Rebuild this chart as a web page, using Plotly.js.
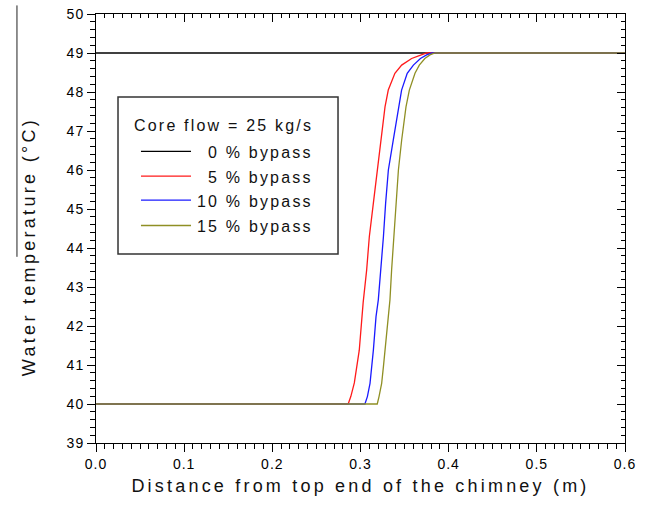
<!DOCTYPE html>
<html>
<head>
<meta charset="utf-8">
<script src="https://cdn.plot.ly/plotly-3.0.1.min.js"></script>
<style>
  html, body { margin: 0; padding: 0; background: #fff; }
  #chart { width: 650px; height: 513px; }
  .xtitle { letter-spacing: 3.2px; }
  .xtick text, .ytick text { letter-spacing: 1px; }
  .annotation-text { letter-spacing: 2.2px; }
</style>
</head>
<body>
<div id="chart"></div>
<script>
// Water temperature along the chimney for several bypass fractions
const legendTitle = "Core flow = 25 kg/s";
const seriesNames = ["0 % bypass", "5 % bypass", "10 % bypass", "15 % bypass"];
const seriesColors = ["#000000", "#ff1a1a", "#1a1aff", "#8f8f24"];

const x0 = [0, 0.6];
const t0 = [49, 49];

const x5 = [0, 0.286, 0.289, 0.293, 0.2986, 0.303, 0.307, 0.310, 0.3146, 0.319, 0.323, 0.3278, 0.3315, 0.339, 0.3467, 0.358, 0.369, 0.375, 0.6];
const t5 = [40, 40, 40.19, 40.54, 41.38, 42.6, 43.44, 44.29, 45.15, 46.0, 46.77, 47.62, 48.05, 48.48, 48.69, 48.86, 48.95, 49, 49];

const x10 = [0, 0.305, 0.3078, 0.3108, 0.3146, 0.3176, 0.3202, 0.3232, 0.326, 0.3285, 0.3316, 0.3372, 0.343, 0.3466, 0.353, 0.36, 0.368, 0.375, 0.381, 0.6];
const t10 = [40, 40, 40.19, 40.53, 41.38, 42.24, 42.67, 43.44, 44.29, 45.15, 46.0, 46.77, 47.62, 48.05, 48.48, 48.69, 48.86, 48.95, 49, 49];

const x15 = [0, 0.319, 0.321, 0.324, 0.326, 0.3278, 0.3307, 0.3334, 0.3353, 0.338, 0.3402, 0.343, 0.3467, 0.3516, 0.3554, 0.3618, 0.3667, 0.373, 0.3788, 0.3845, 0.6];
const t15 = [40, 40, 40.19, 40.53, 40.96, 41.38, 42.24, 42.67, 43.44, 44.29, 45.15, 46.0, 46.77, 47.62, 48.05, 48.48, 48.69, 48.86, 48.95, 49, 49];

// axis ranges and tick spacing (major / minor)
const xRange = [0, 0.6];
const yRange = [39, 50];
const xStep = [0.1, 0.01];
const yStep = [1, 0.2];

const xs = [x0, x5, x10, x15];
const ts = [t0, t5, t10, t15];

const curveTraces = xs.map((x, i) => ({
  x: x, y: ts[i], type: "scatter", mode: "lines", name: seriesNames[i],
  line: { color: seriesColors[i], width: 1.3 }, showlegend: false
}));
// empty trace that carries the top/right frame axes
const frameTrace = { x: [], y: [], xaxis: "x2", yaxis: "y2", type: "scatter", mode: "lines",
  showlegend: false, hoverinfo: "skip" };

const FAMILY = "Liberation Sans, Arial, sans-serif";
const tickFont = { family: FAMILY, size: 14, color: "#000" };
const titleFont = { family: FAMILY, size: 18, color: "#111" };
const legFont = { family: FAMILY, size: 16, color: "#111" };

function axisBase(range, step, dir, mirror) {
  const a = {
    range: range, dtick: step[0],
    ticks: dir, ticklen: 8, tickcolor: "#000",
    minor: { dtick: step[1], ticks: dir, ticklen: dir === "inside" ? 4 : 5, tickcolor: "#000" },
    showline: true, linecolor: "#000", showgrid: false, zeroline: false
  };
  if (mirror) a.mirror = "allticks";
  return a;
}

// legend box in paper coordinates
const L = { x0: 0.0416, x1: 0.4575, y0: 0.4406, y1: 0.8065 };
const sampleX = [0.085, 0.1796];
const rowY = [0.680, 0.622, 0.566, 0.507];
const textX = 0.414;

const shapes = [
  { type: "rect", xref: "paper", yref: "paper", x0: L.x0, x1: L.x1, y0: L.y0, y1: L.y1,
    line: { color: "#333", width: 1.5 }, fillcolor: "rgba(255,255,255,0)" },
  { type: "line", xref: "paper", yref: "paper", x0: -0.1494, x1: -0.1494, y0: 1.02, y1: 0.434,
    line: { color: "#222", width: 1 } }
];
const annotations = [
  { xref: "paper", yref: "paper", x: textX, y: 0.741, xanchor: "right", yanchor: "middle",
    text: legendTitle, showarrow: false, font: legFont },
  // y-axis title
  { xref: "paper", yref: "paper", x: -0.1267, y: 0.459, xanchor: "center", yanchor: "middle",
    textangle: -90, text: "Water temperature (°C)", showarrow: false, font: titleFont }
];
seriesNames.forEach((name, i) => {
  shapes.push({ type: "line", xref: "paper", yref: "paper", x0: sampleX[0], x1: sampleX[1],
    y0: rowY[i], y1: rowY[i], line: { color: seriesColors[i], width: 1.3 } });
  annotations.push({ xref: "paper", yref: "paper", x: textX, y: rowY[i] - 0.003, xanchor: "right",
    yanchor: "middle", text: name, showarrow: false, font: legFont });
});

function makeLayout(withFrameAxes) {
  const layout = {
    width: 650, height: 513,
    margin: { l: 96, r: 25, t: 14, b: 70 },
    paper_bgcolor: "#fff", plot_bgcolor: "#fff",
    showlegend: false,
    xaxis: Object.assign(axisBase(xRange, xStep, "outside", !withFrameAxes), {
      tickformat: ".1f", tickfont: tickFont,
      title: { text: "Distance from top end of the chimney (m)", font: titleFont, standoff: 8 }
    }),
    yaxis: Object.assign(axisBase(yRange, yStep, "outside", !withFrameAxes), { tickfont: tickFont }),
    shapes: shapes,
    annotations: annotations
  };
  if (withFrameAxes) {
    // top and right frame with ticks pointing into the plot
    layout.xaxis2 = Object.assign(axisBase(xRange, xStep, "inside", false), {
      overlaying: "x", side: "top", anchor: "y2", showticklabels: false });
    layout.yaxis2 = Object.assign(axisBase(yRange, yStep, "inside", false), {
      overlaying: "y", side: "right", anchor: "x2", showticklabels: false });
  }
  return layout;
}

const config = { staticPlot: true, displayModeBar: false };

function widenTitle(gd) {
  gd.querySelectorAll(".annotation-text").forEach(t => {
    if (t.textContent.indexOf("Water") === 0) t.style.letterSpacing = "3.3px";
  });
  return gd;
}

Plotly.newPlot("chart", curveTraces.concat([frameTrace]), makeLayout(true), config).then(gd => {
  const mainTicks = gd.querySelectorAll("path.xtick").length;
  const topTicks = gd.querySelectorAll("path.x2tick").length;
  if (mainTicks < 40 || topTicks < 40) {
    // minor ticks were not drawn with the separate frame axes: mirror the main axes instead
    return Plotly.newPlot("chart", curveTraces, makeLayout(false), config);
  }
  return gd;
}).then(widenTitle);
</script>
</body>
</html>
